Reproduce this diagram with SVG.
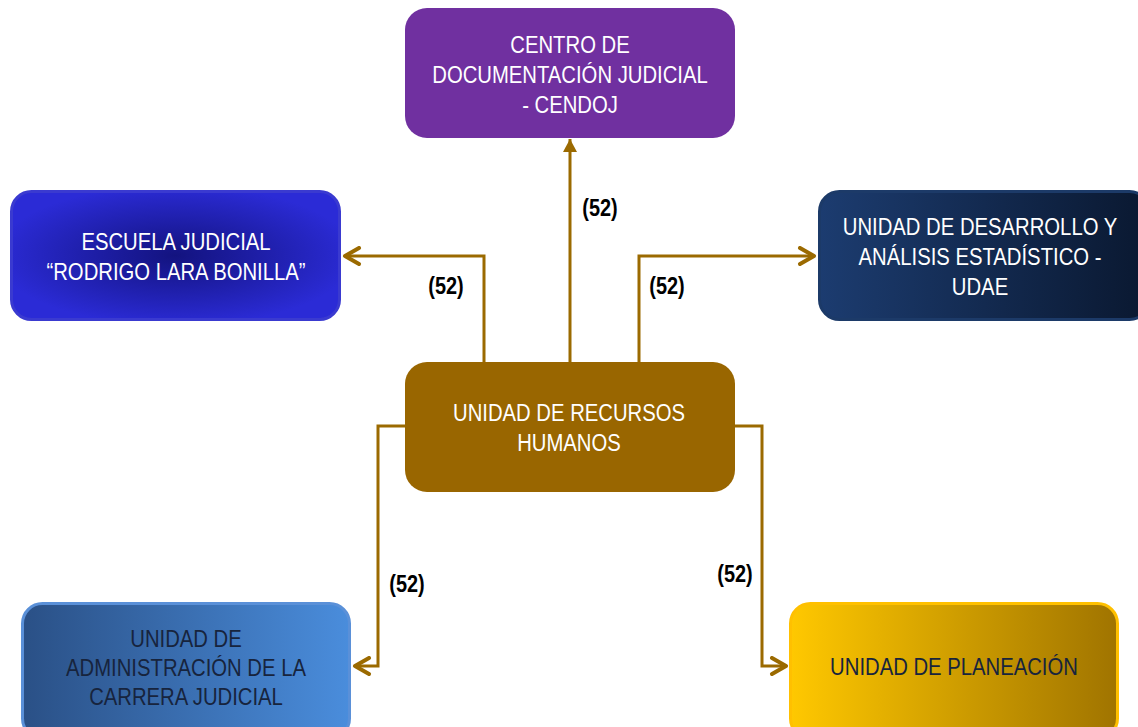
<svg xmlns="http://www.w3.org/2000/svg" width="1138" height="727" viewBox="0 0 1138 727">
<defs>
<radialGradient id="gEsc" cx="0.5" cy="0.5" r="0.55">
<stop offset="0" stop-color="#13137f"/>
<stop offset="1" stop-color="#2b2bd6"/>
</radialGradient>
<linearGradient id="gUdae" x1="0" y1="0" x2="1" y2="0">
<stop offset="0" stop-color="#1c3c70"/>
<stop offset="1" stop-color="#0a1830"/>
</linearGradient>
<linearGradient id="gCar" x1="0" y1="0" x2="1" y2="0">
<stop offset="0" stop-color="#2a5086"/>
<stop offset="1" stop-color="#4a8ddc"/>
</linearGradient>
<linearGradient id="gPlan" x1="0" y1="0" x2="1" y2="0">
<stop offset="0" stop-color="#ffc800"/>
<stop offset="1" stop-color="#a07400"/>
</linearGradient>
<marker id="open" viewBox="0 0 20 20" refX="17" refY="10" markerWidth="20" markerHeight="20" markerUnits="userSpaceOnUse" orient="auto">
<path d="M3 2 L17 10 L3 18" fill="none" stroke="#9b6a00" stroke-width="4" stroke-linecap="round" stroke-linejoin="round"/>
</marker>
<marker id="tri" viewBox="0 0 14 14" refX="13" refY="7" markerWidth="14" markerHeight="14" markerUnits="userSpaceOnUse" orient="auto">
<path d="M0 0 L13 7 L0 14 Z" fill="#9b6a00"/>
</marker>
</defs>
<style>
.t{font-family:"Liberation Sans",Arial,sans-serif;font-size:24px;text-anchor:middle}
.w{fill:#ffffff}
.d{fill:#17243d}
.lbl{font-family:"Liberation Sans",Arial,sans-serif;font-size:24px;font-weight:bold;text-anchor:middle;fill:#000000}
.c{fill:none;stroke:#9b6a00;stroke-width:3}
</style>
<rect width="1138" height="727" fill="#ffffff"/>
<g id="cendoj">
<rect x="405" y="8" width="330" height="130" rx="22" fill="#7030a0"/>
<g transform="translate(570,0) scale(0.845,1)">
<text class="t w" x="0" y="53">CENTRO DE</text>
<text class="t w" x="0" y="83">DOCUMENTACIÓN JUDICIAL</text>
<text class="t w" x="0" y="113">- CENDOJ</text>
</g>
</g>
<g id="escuela">
<rect x="11.5" y="191.5" width="328" height="128" rx="20" fill="url(#gEsc)" stroke="#3a3ad0" stroke-width="3"/>
<g transform="translate(176,0) scale(0.845,1)">
<text class="t w" x="0" y="250">ESCUELA JUDICIAL</text>
<text class="t w" x="0" y="280">“RODRIGO LARA BONILLA”</text>
</g>
</g>
<g id="udae">
<rect x="819.5" y="191.5" width="330" height="128" rx="20" fill="url(#gUdae)" stroke="#1c3a68" stroke-width="3"/>
<g transform="translate(980,0) scale(0.845,1)">
<text class="t w" x="0" y="235">UNIDAD DE DESARROLLO Y</text>
<text class="t w" x="0" y="265">ANÁLISIS ESTADÍSTICO -</text>
<text class="t w" x="0" y="295">UDAE</text>
</g>
</g>
<g id="recursos">
<rect x="405" y="362" width="330" height="130" rx="22" fill="#996600"/>
<g transform="translate(569,0) scale(0.845,1)">
<text class="t w" x="0" y="421">UNIDAD DE RECURSOS</text>
<text class="t w" x="0" y="451">HUMANOS</text>
</g>
</g>
<g id="carrera">
<rect x="22.5" y="603.5" width="327" height="135" rx="20" fill="url(#gCar)" stroke="#5a90d8" stroke-width="3"/>
<g transform="translate(186,0) scale(0.845,1)">
<text class="t d" x="0" y="647">UNIDAD DE</text>
<text class="t d" x="0" y="676">ADMINISTRACIÓN DE LA</text>
<text class="t d" x="0" y="705">CARRERA JUDICIAL</text>
</g>
</g>
<g id="planeacion">
<rect x="790.5" y="603.5" width="327" height="135" rx="20" fill="url(#gPlan)" stroke="#ffc000" stroke-width="3"/>
<g transform="translate(954,0) scale(0.845,1)">
<text class="t d" x="0" y="675">UNIDAD DE PLANEACIÓN</text>
</g>
</g>
<g id="connectors">
<path class="c" d="M570 362 L570 139" marker-end="url(#tri)"/>
<path class="c" d="M484 362 L484 256 L345 256" marker-end="url(#open)"/>
<path class="c" d="M639 362 L639 256 L814 256" marker-end="url(#open)"/>
<path class="c" d="M405 426 L378 426 L378 666 L355 666" marker-end="url(#open)"/>
<path class="c" d="M735 426 L762 426 L762 666 L786 666" marker-end="url(#open)"/>
<g transform="translate(600,216) scale(0.83,1)"><text class="lbl" x="0" y="0">(52)</text></g>
<g transform="translate(446,294) scale(0.83,1)"><text class="lbl" x="0" y="0">(52)</text></g>
<g transform="translate(667,294) scale(0.83,1)"><text class="lbl" x="0" y="0">(52)</text></g>
<g transform="translate(407,592) scale(0.83,1)"><text class="lbl" x="0" y="0">(52)</text></g>
<g transform="translate(735,582) scale(0.83,1)"><text class="lbl" x="0" y="0">(52)</text></g>
</g>
</svg>
